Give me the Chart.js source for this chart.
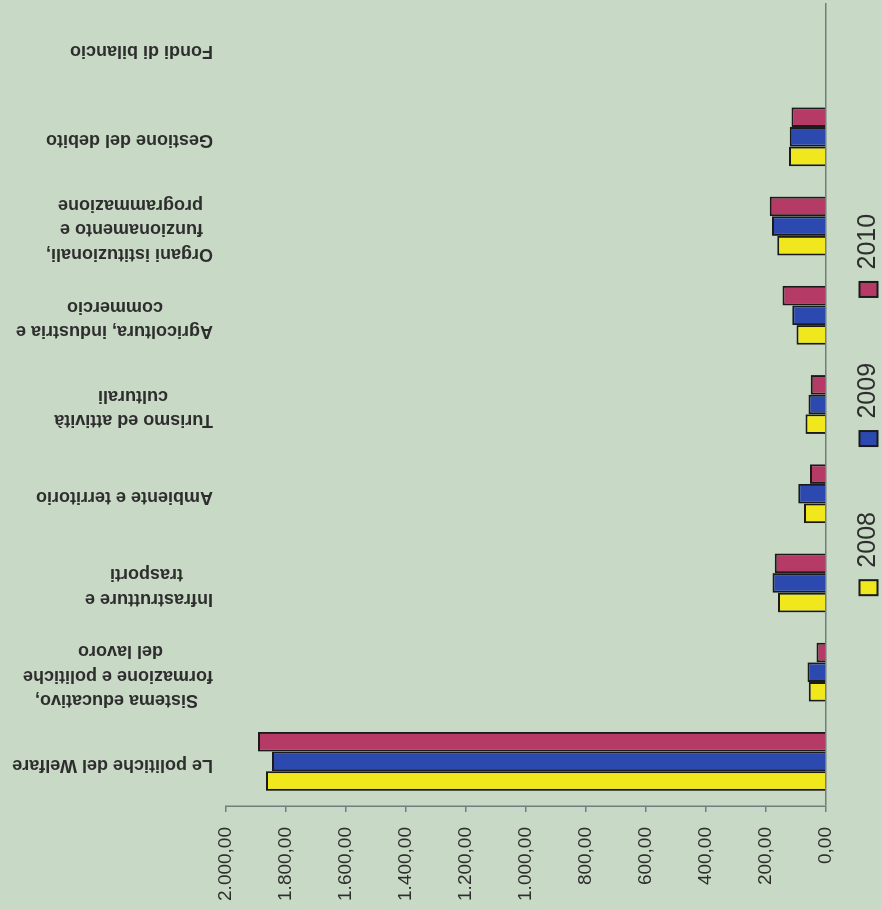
<!DOCTYPE html>
<html>
<head>
<meta charset="utf-8">
<script src="https://cdn.jsdelivr.net/npm/chart.js@4"></script>
<style>
  html, body { margin: 0; padding: 0; background: #c8d9c5; overflow: hidden; }
  /* the chart is drawn as columns, then turned a quarter left like the scan */
  #wrap { position: absolute; left: 0; top: 0; width: 909px; height: 881px;
          transform-origin: 0 0; transform: translate(0, 909px) rotate(-90deg); }
</style>
</head>
<body>
<div id="wrap"><canvas id="chart" width="909" height="881"></canvas></div>
<script>
const categories = [
    ["Le politiche del Welfare"],
    ["Sistema educativo,", "formazione e politiche", "del lavoro"],
    ["Infrastrutture e", "trasporti"],
    ["Ambiente e territorio"],
    ["Turismo ed attività", "culturali"],
    ["Agricoltura, industria e", "commercio"],
    ["Organi istituzionali,", "funzionamento e", "programmazione"],
    ["Gestione del debito"],
    ["Fondi di bilancio"]
];
const years = ["2008", "2009", "2010"];
const values2008 = [1867, 57, 159, 73, 68, 98, 162, 123, null];
const values2009 = [1847, 61, 178, 92, 58, 112, 179, 120, null];
const values2010 = [1893, 31, 170, 53, 50, 144, 187, 114, null];
const valueTicks = [0, 200, 400, 600, 800, 1000, 1200, 1400, 1600, 1800, 2000];

const family = '"Liberation Sans", Arial, sans-serif';
const textColor = "#2e2e2e";
const axisColor = "#6f7f7f";
const labelSize = 18;
const labelLine = 1.35;

function formatIt(v){
    // 2000 -> "2.000,00"
    const whole = Math.floor(v).toString().replace(/\B(?=(\d{3})+(?!\d))/g, ".");
    return whole + ",00";
}

function centerLines(lines){
    // pads short lines with spaces so the block looks centred once rotated,
    // and adds an empty last line so every block sits on its category
    const c = document.createElement("canvas").getContext("2d");
    c.font = "bold " + labelSize + "px " + family;
    const widths = lines.map(l => c.measureText(l).width);
    const max = Math.max(...widths);
    const sp = c.measureText(" ").width;
    const out = lines.map((l, i) => " ".repeat(Math.round((max - widths[i]) / 2 / sp)) + l);
    if(lines.length < 3){
        out.push("");
    }
    return out;
}

const ctx = document.getElementById("chart").getContext("2d");

new Chart(ctx, {
    type: "bar",
    data: {
        labels: categories,
        datasets: [{
            label: years[0],
            data: values2008,
            backgroundColor: "#f0e81c",
            borderColor: "#1a1a1a",
            borderWidth: 2
        },
        {
            label: years[1],
            data: values2009,
            backgroundColor: "#2c49b0",
            borderColor: "#1a1a1a",
            borderWidth: 2
        },
        {
            label: years[2],
            data: values2010,
            backgroundColor: "#b63a66",
            borderColor: "#1a1a1a",
            borderWidth: 2
        }]
    },
    options: {
        responsive: false,
        animation: false,
        categoryPercentage: 0.66,
        barPercentage: 1.0,
        layout: { padding: { top: 0, right: 3, bottom: -10, left: 0 } },
        plugins: {
            tooltip: { enabled: false },
            legend: {
                position: "bottom",
                fullSize: false,
                labels: {
                    boxWidth: 15,
                    boxHeight: 18,
                    padding: 66,
                    color: textColor,
                    font: { family: family, size: 25 }
                },
                title: { display: true, text: "", font: { size: 1 }, padding: { top: -18, bottom: -19 } }
            }
        },
        scales: {
            x: {
                position: "top",
                grid: { display: false, drawTicks: false },
                border: { display: false },
                ticks: {
                    minRotation: 90,
                    maxRotation: 90,
                    autoSkip: false,
                    padding: 13,
                    labelOffset: 2 * labelSize * labelLine - 3.4,
                    // two-line labels need half a line more, the backdrop switch gives it
                    showLabelBackdrop: c => categories[c.index].length === 2,
                    backdropColor: "rgba(0,0,0,0)",
                    color: textColor,
                    font: { family: family, size: labelSize, weight: "bold", lineHeight: labelLine },
                    callback: function(v, i){ return centerLines(categories[i]); }
                },
                afterFit: s => { s.height = 226; }
            },
            y: {
                min: 0,
                max: 2000,
                afterBuildTicks: s => { s.ticks = valueTicks.map(v => ({ value: v })); },
                ticks: {
                    padding: 15,
                    color: textColor,
                    font: { family: family, size: 19 },
                    callback: v => formatIt(v)
                },
                grid: {
                    tickLength: 6,
                    tickColor: axisColor,
                    lineWidth: 1.5,
                    color: c => (c.tick && c.tick.value === 0) ? axisColor : "rgba(0,0,0,0)"
                },
                border: { display: true, color: axisColor, width: 1.5 },
                afterFit: s => { s.width = 103; }
            }
        }
    }
});
</script>
</body>
</html>
